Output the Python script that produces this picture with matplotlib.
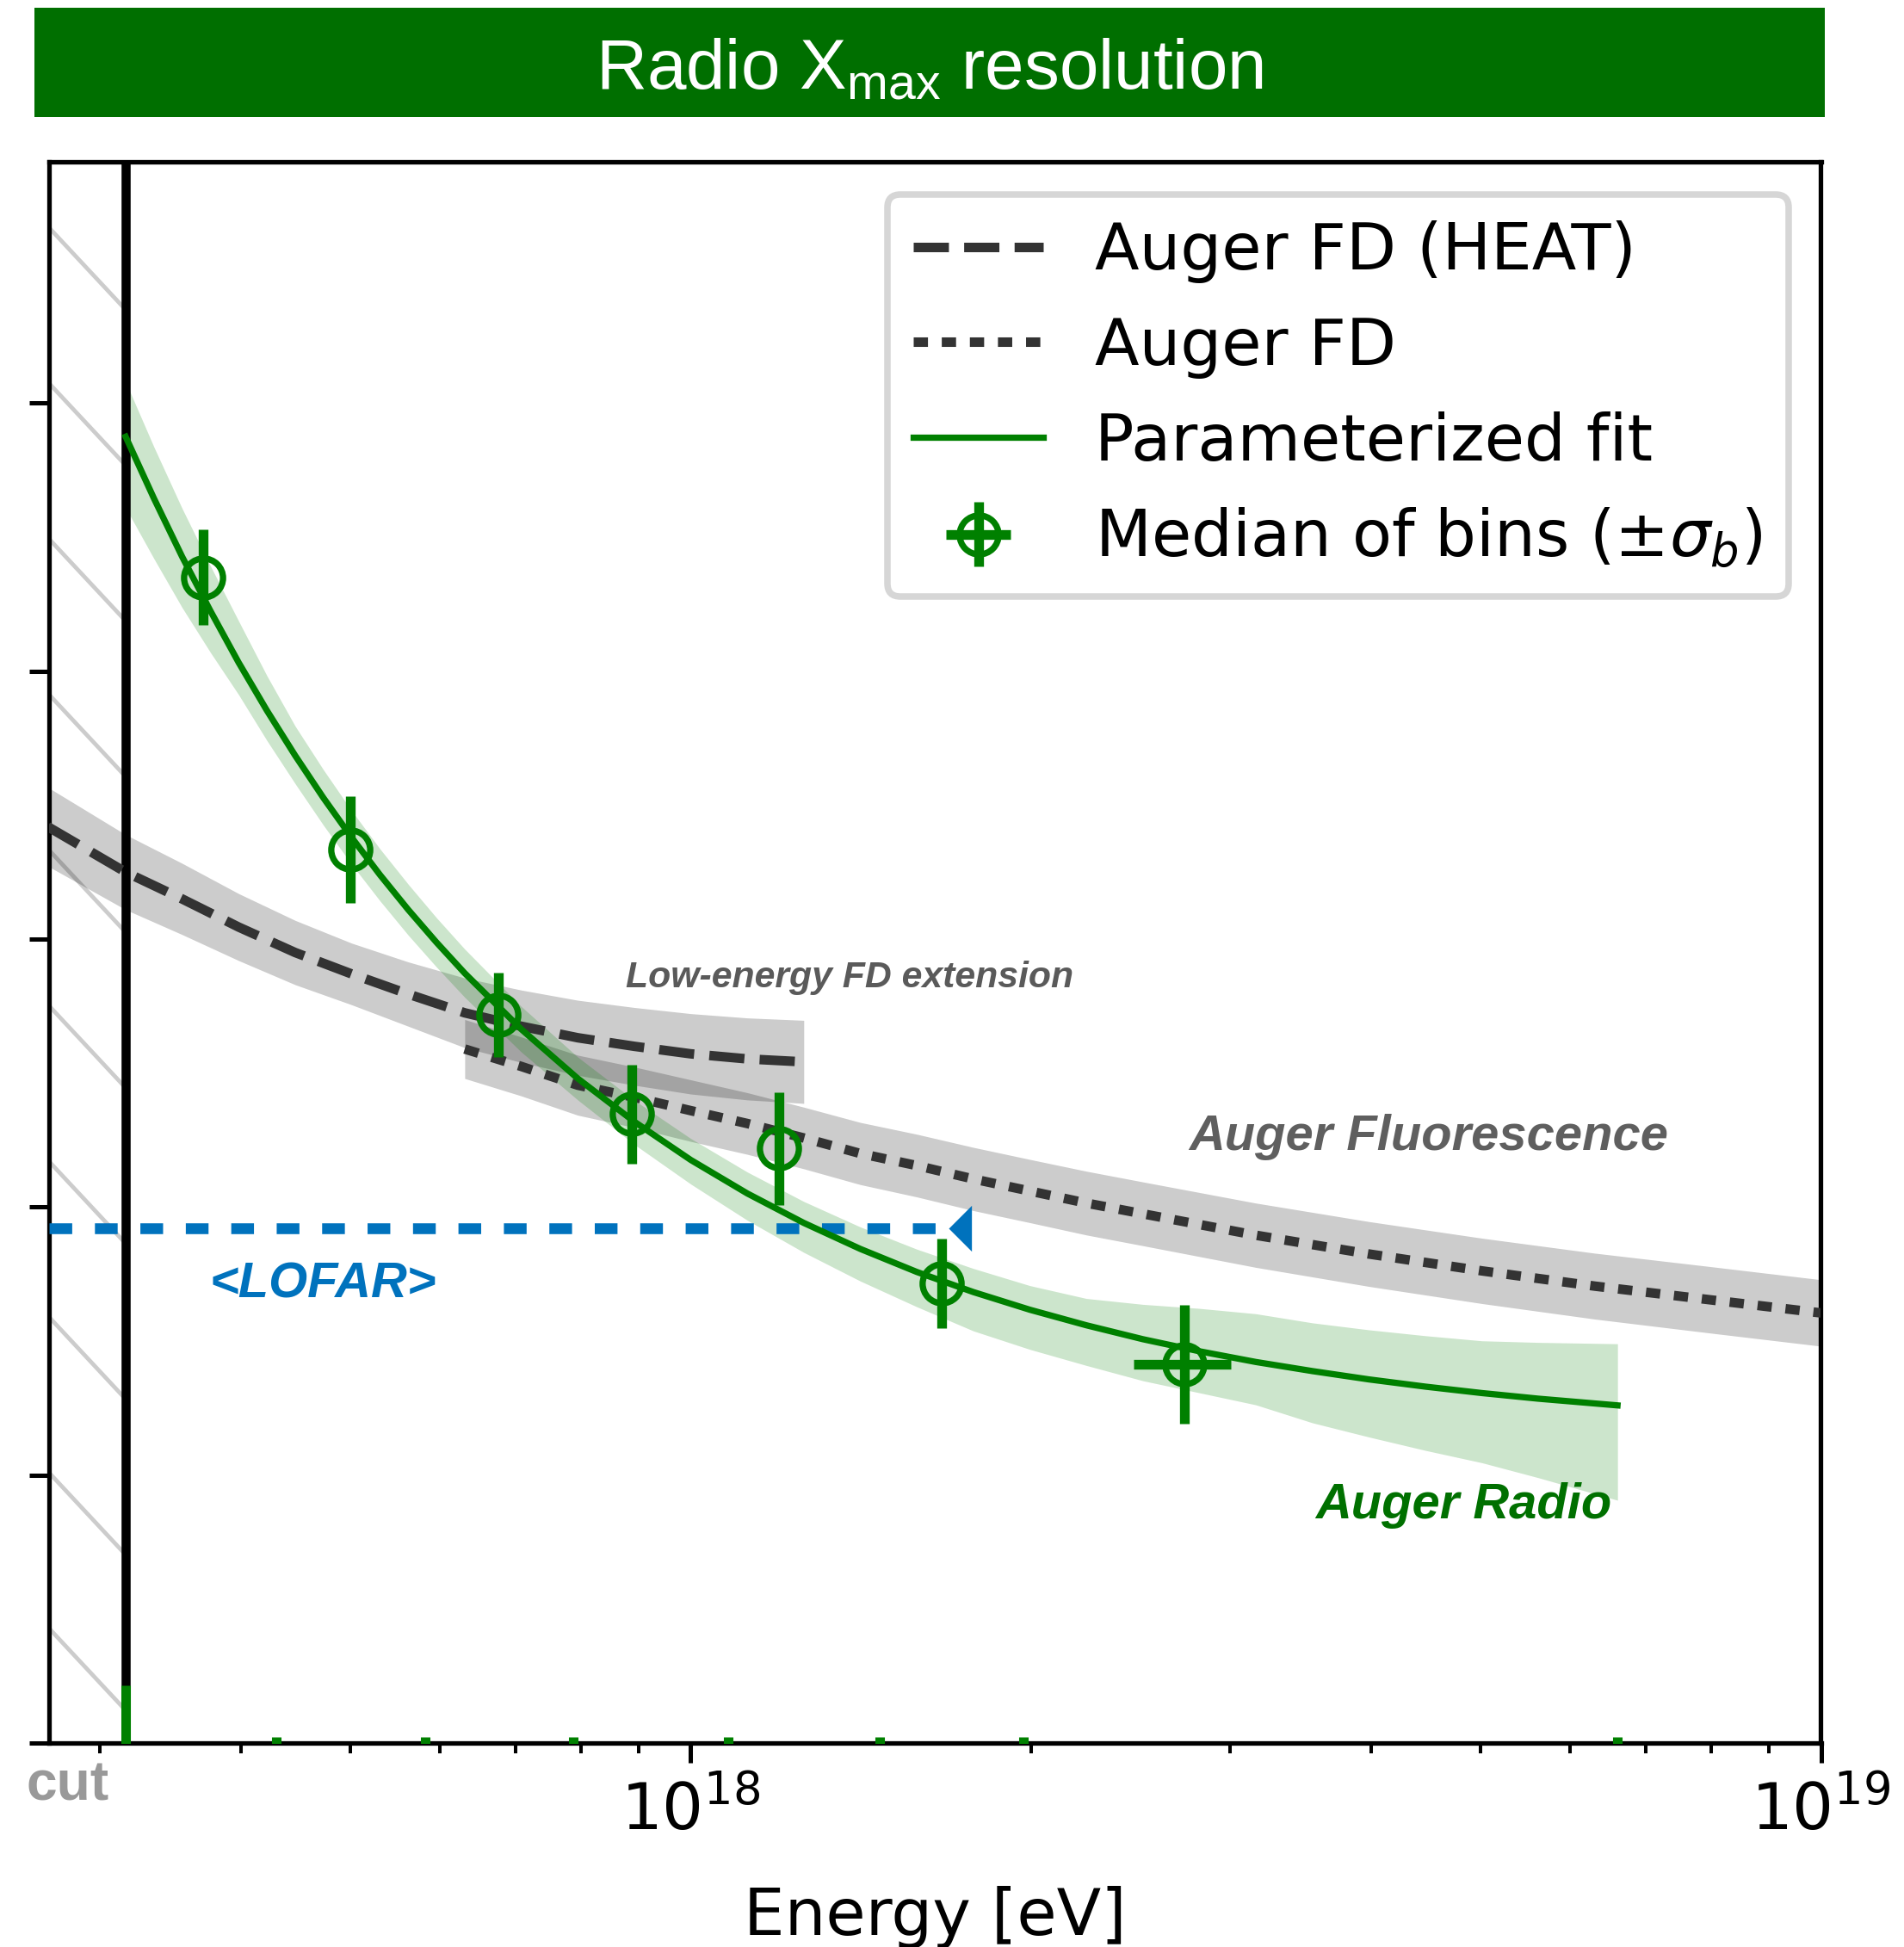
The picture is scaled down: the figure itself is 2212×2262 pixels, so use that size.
import numpy as np
import matplotlib
matplotlib.use("Agg")
import matplotlib.pyplot as plt
from matplotlib.patches import Rectangle
from matplotlib.ticker import LogLocator, NullFormatter

DPI = 181
W_PX, H_PX = 2212, 2262

plt.rcParams.update({
    "font.family": ["DejaVu Sans"],
    "mathtext.fontset": "dejavusans",
    # fonts for the "custom" math family used only by the banner title
    "mathtext.rm": "Liberation Sans",
    "mathtext.it": "Liberation Sans:italic",
    "mathtext.bf": "Liberation Sans:bold",
    "mathtext.sf": "Liberation Sans",
})

# ---------------------------------------------------------------- data
E_CUT = 10 ** 17.5
E_MIN, E_MAX = 2.703e17, 1e19

# Auger FD (HEAT) low-energy extension: log10(E/eV), resolution, band half-width
heat_lg = [17.431, 17.50, 17.55, 17.60, 17.65, 17.70, 17.75, 17.80, 17.85,
           17.90, 17.95, 18.00, 18.05, 18.10]
heat_res = [34.2, 32.5, 31.5, 30.45, 29.5, 28.7, 27.95, 27.25, 26.75,
            26.32, 26.0, 25.72, 25.53, 25.42]
heat_err = [1.47, 1.40, 1.33, 1.25, 1.20, 1.15, 1.20, 1.30, 1.35,
            1.40, 1.45, 1.50, 1.53, 1.55]

# Auger FD (standard telescopes)
fd_lg = [17.80, 17.85, 17.90, 17.95, 18.00, 18.05, 18.10, 18.15, 18.20, 18.25,
         18.30, 18.35, 18.40, 18.50, 18.60, 18.70, 18.80, 18.90, 19.00]
fd_res = [25.9, 25.25, 24.55, 24.1, 23.6, 23.12, 22.58, 22.0, 21.55, 21.05,
          20.6, 20.15, 19.75, 18.95, 18.25, 17.62, 17.05, 16.55, 16.05]
fd_err = [1.10, 1.10, 1.12, 1.13, 1.15, 1.15, 1.15, 1.16, 1.17, 1.18,
          1.18, 1.19, 1.19, 1.20, 1.21, 1.22, 1.23, 1.24, 1.24]

# Radio parameterized fit with asymmetric uncertainty band
fit_lg = [17.50, 17.525, 17.55, 17.575, 17.60, 17.625, 17.65, 17.675, 17.70,
          17.725, 17.75, 17.775, 17.80, 17.85, 17.90, 17.95, 18.00, 18.05,
          18.10, 18.15, 18.20, 18.25, 18.30, 18.35, 18.40, 18.45, 18.50,
          18.55, 18.60, 18.65, 18.70, 18.75, 18.82]
fit_res = [48.75, 46.45, 44.27, 42.25, 40.32, 38.53, 36.85, 35.27, 33.79,
           32.4, 31.1, 29.88, 28.73, 26.64, 24.8, 23.19, 21.76, 20.51,
           19.41, 18.44, 17.58, 16.83, 16.17, 15.59, 15.07, 14.62, 14.22,
           13.88, 13.57, 13.3, 13.06, 12.85, 12.6]
fit_up = [2.05, 1.92, 1.8, 1.68, 1.55, 1.3, 1.1, 1.05, 1.0,
          0.97, 0.95, 0.92, 0.9, 0.85, 0.8, 0.8, 0.8, 0.8,
          0.8, 0.82, 0.85, 0.88, 0.9, 1.0, 1.3, 1.6, 1.8,
          1.8, 1.85, 1.9, 1.95, 2.1, 2.3]
fit_lo = [2.65, 2.25, 1.9, 1.55, 1.2, 1.12, 1.05, 1.02, 1.0,
          0.97, 0.95, 0.92, 0.9, 0.85, 0.8, 0.85, 0.9, 1.0,
          1.1, 1.2, 1.3, 1.45, 1.48, 1.5, 1.55, 1.55, 1.6,
          1.93, 2.15, 2.38, 2.6, 2.95, 3.54]

# Median of bins
pts_E = [3.70e17, 5.00e17, 6.76e17, 8.87e17, 1.197e18, 1.667e18, 2.735e18]
pts_res = [43.5, 33.35, 27.17, 23.47, 22.19, 17.16, 14.13]
pts_yerr = [1.78, 2.0, 1.58, 1.85, 2.1, 1.68, 2.22]
pts_xerr = [0, 0, 0, 0, 0, 0, 0.27e18]
bin_edges = [3.16e17, 4.30e17, 5.82e17, 7.87e17, 1.08e18, 1.47e18, 1.97e18, 6.6e18]

# LOFAR reference resolution
lofar_res = 19.22
lofar_E_end = 1.69e18

# ---------------------------------------------------------------- figure
fig = plt.figure(figsize=(W_PX / DPI, H_PX / DPI), dpi=DPI)
ax_l, ax_r = 56.5 / W_PX, 2115.5 / W_PX
ax_t, ax_b = 1 - 188.3 / H_PX, 1 - 2025 / H_PX
ax = fig.add_axes([ax_l, ax_b, ax_r - ax_l, ax_t - ax_b])
ax.set_xscale("log")
ax.set_xlim(E_MIN, E_MAX)
ax.set_ylim(0, 59)

GREEN = "green"
DARK = "#333333"
BLUE = "#0072bd"

# hatched region below the energy cut
for k in range(10):
    y0 = 56.57 - 5.808 * k
    ax.plot([E_MIN, E_CUT], [y0, y0 - 3.08], color="0.8", lw=1.9,
            solid_capstyle="butt", zorder=1)

heat_E = 10 ** np.array(heat_lg)
fd_E = 10 ** np.array(fd_lg)
fit_E = 10 ** np.array(fit_lg)
heat_res_a, heat_err_a = np.array(heat_res), np.array(heat_err)
fd_res_a, fd_err_a = np.array(fd_res), np.array(fd_err)
fit_res_a = np.array(fit_res)

ax.fill_between(heat_E, heat_res_a - heat_err_a, heat_res_a + heat_err_a,
                color="k", alpha=0.2, lw=0, zorder=2)
ax.fill_between(fd_E, fd_res_a - fd_err_a, fd_res_a + fd_err_a,
                color="k", alpha=0.2, lw=0, zorder=2)
ax.fill_between(fit_E, fit_res_a - np.array(fit_lo), fit_res_a + np.array(fit_up),
                color=GREEN, alpha=0.2, lw=0, zorder=2)

ax.axvline(E_CUT, color="k", lw=4.2, zorder=3)

ax.plot([E_MIN, lofar_E_end], [lofar_res, lofar_res], color=BLUE, lw=5,
        ls=(0, (2.1, 2.1)), zorder=3.5)
ax.plot([lofar_E_end], [lofar_res], ls="none", color=BLUE,
        marker=[(0, 0), (1, 1), (1, -1)], ms=21.2, mew=0, zorder=3.5)

h_heat, = ax.plot(heat_E, heat_res, color=DARK, lw=4.4, ls="--",
                  label="Auger FD (HEAT)", zorder=4)
h_fd, = ax.plot(fd_E, fd_res, color=DARK, lw=4.4, ls=(0, (1.5, 1.45)),
                label="Auger FD", zorder=4)
h_fit, = ax.plot(fit_E, fit_res, color=GREEN, lw=2.9,
                 label="Parameterized fit", zorder=5)

h_pts = ax.errorbar(pts_E, pts_res, yerr=pts_yerr, xerr=pts_xerr, fmt="o",
                    ms=18, mfc="none", mec=GREEN, mew=2.9, ecolor=GREEN,
                    elinewidth=4.5, capsize=0, zorder=6,
                    label=r"Median of bins ($\pm\sigma_b$)")

# bin edges marked on the energy axis
ax.plot(bin_edges[1:], [0] * (len(bin_edges) - 1), ls="none", marker="|",
        ms=5.5, mew=4.4, color=GREEN, zorder=3)
ax.plot(bin_edges[:1], [0], ls="none", marker="|", ms=53, mew=4.4,
        color=GREEN, zorder=3)

# annotations
ann_font = dict(family="Liberation Sans", weight="bold", style="italic")
ax.text(8.76e17, 28.21, "Low-energy FD extension", color="#5a5a5a",
        fontsize=17, ha="left", va="baseline", **ann_font)
ax.text(2.76e18, 22.13, "Auger Fluorescence", color="#5f5f5f",
        fontsize=23, ha="left", va="baseline", **ann_font)
ax.text(3.57e18, 8.38, "Auger Radio", color="#007000",
        fontsize=23, ha="left", va="baseline", **ann_font)
ax.text(3.75e17, 16.63, "<LOFAR>", color=BLUE,
        fontsize=23, ha="left", va="baseline", **ann_font)
ax.text(10 ** 17.412, -2.15, "cut", color="#999999", fontsize=25.5,
        family="Liberation Sans", weight="bold", ha="left", va="baseline")

# axes styling
ax.xaxis.set_major_locator(LogLocator(base=10))
ax.xaxis.set_minor_locator(LogLocator(base=10, subs=np.arange(2, 10)))
ax.xaxis.set_minor_formatter(NullFormatter())
ax.set_yticks([0, 10, 20, 30, 40, 50])
ax.tick_params(axis="y", labelleft=False)
ax.tick_params(which="major", direction="out", length=9.2, width=2.0,
               labelsize=30, pad=8)
ax.tick_params(which="minor", direction="out", length=4.8, width=1.6)
for s in ax.spines.values():
    s.set_linewidth(2.1)

ax.set_xlabel("Energy [eV]", fontsize=30)
ax.xaxis.label.set_va("baseline")
ax.xaxis.set_label_coords(0.5, -(2248 - 2025) / (2025 - 188.3))

leg = ax.legend(handles=[h_heat, h_fd, h_fit, h_pts], loc="upper right",
                fontsize=30, labelspacing=0.5, handlelength=2.0,
                borderaxespad=0.5, framealpha=0.8, edgecolor="0.8",
                fancybox=True)
leg.get_frame().set_linewidth(3)
leg.set_zorder(10)

# title banner
fig.patches.append(Rectangle((39.5 / W_PX, 1 - 135.7 / H_PX),
                             (2120 - 39.5) / W_PX, (135.7 - 9.3) / H_PX,
                             transform=fig.transFigure, facecolor="#006f00",
                             edgecolor="none", zorder=0))
fig.text(1079.75 / W_PX, 1 - 103.3 / H_PX, r"Radio X$_{\mathrm{max}}$ resolution",
         color="white", fontsize=32.5, family="Liberation Sans",
         math_fontfamily="custom", ha="center", va="baseline")

fig.savefig("out.png", dpi=DPI)
